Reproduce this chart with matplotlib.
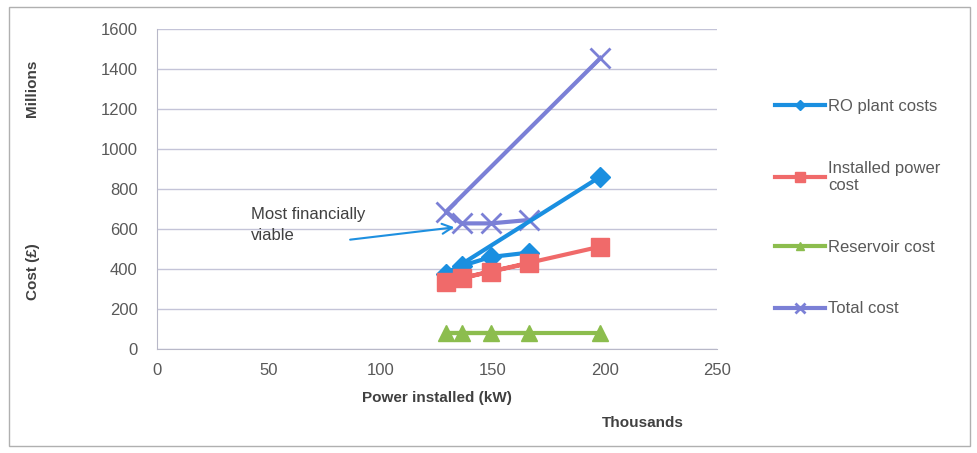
import matplotlib.pyplot as plt
from matplotlib.patches import Rectangle

plt.rcParams['font.family'] = ['Liberation Sans', 'DejaVu Sans']

# power installed (thousands kW), in spreadsheet row order
power = [198, 129, 136, 149, 166]
ro_plant = [862, 375, 415, 460, 482]
installed_power = [512, 337, 353, 387, 428]
reservoir = [82, 82, 82, 82, 82]
total = [1455, 686, 628, 628, 645]

xticks = [0, 50, 100, 150, 200, 250]
yticks = [0, 200, 400, 600, 800, 1000, 1200, 1400, 1600]

fig = plt.figure(figsize=(9.78, 4.53), dpi=100)
ax = fig.add_axes([0.1605, 0.2296, 0.5726, 0.7064])

txt = '#595959'
ax.plot(power, ro_plant, color='#1a8fe0', lw=3, marker='D', ms=10, label='RO plant costs', zorder=4)
ax.plot(power, installed_power, color='#f06a6a', lw=3, marker='s', ms=13, label='Installed power\ncost', zorder=5)
ax.plot(power, reservoir, color='#8cbd4e', lw=3, marker='^', ms=12, label='Reservoir cost', zorder=3)
ax.plot(power, total, color='#7b80d6', lw=3, marker='x', ms=14, mew=2, label='Total cost', zorder=3)

ax.set_xlim(0, 250)
ax.set_ylim(0, 1600)
ax.set_xticks(xticks)
ax.set_yticks(yticks)
ax.tick_params(axis='y', length=0, labelsize=12, labelcolor=txt, pad=14)
ax.tick_params(axis='x', length=0, labelsize=12, labelcolor=txt, pad=10)
ax.grid(axis='y', color='#c4c4d8', lw=1)
ax.set_axisbelow(True)
for s in ['top', 'right']:
    ax.spines[s].set_visible(False)
for s in ['left', 'bottom']:
    ax.spines[s].set_color('#b8b8c8')

# annotation
ax.annotate('', xy=(134, 610), xytext=(85, 545),
            arrowprops=dict(arrowstyle='->', color='#1e90e0', lw=1.5, mutation_scale=18))
ax.text(42, 712, 'Most financially\nviable', ha='left', va='top', fontsize=12,
        color='#404040', linespacing=1.55)

# axis titles
fig.text(437 / 978, 1 - 398 / 453, 'Power installed (kW)', ha='center', va='center',
         fontsize=11, fontweight='bold', color='#404040')
fig.text(643 / 978, 1 - 423 / 453, 'Thousands', ha='center', va='center',
         fontsize=11, fontweight='bold', color='#404040')
fig.text(32 / 978, 1 - 88 / 453, 'Millions', ha='center', va='center', rotation=90,
         fontsize=11, fontweight='bold', color='#404040')
fig.text(33 / 978, 1 - 272 / 453, 'Cost (£)', ha='center', va='center', rotation=90,
         fontsize=11, fontweight='bold', color='#404040')

leg = fig.legend(loc='upper left', bbox_to_anchor=(775 / 978, 1 - 99 / 453), frameon=False,
                 fontsize=12, handlelength=3, handletextpad=0.2, labelspacing=2.8,
                 borderpad=0, borderaxespad=0, markerscale=0.5)
for t in leg.get_texts():
    t.set_color(txt)

fig.patches.append(Rectangle((9 / 978, 1 - 446 / 453), 961 / 978, 439 / 453,
                             transform=fig.transFigure, fill=False, ec='#b0b0b0', lw=1))

fig.savefig('out.png', dpi=100)
